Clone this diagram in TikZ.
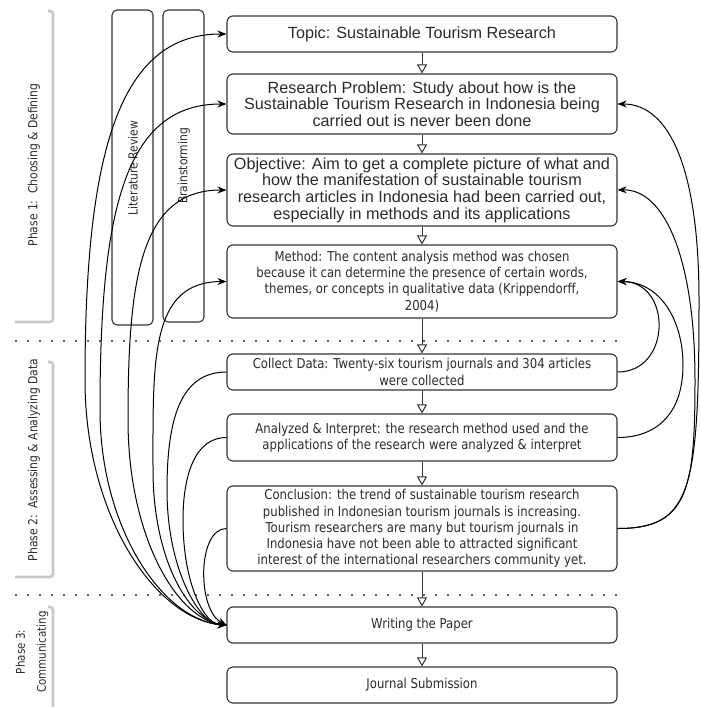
\documentclass[tikz,border=0pt]{standalone}
\usepackage{fontspec}
\setmainfont{Liberation Sans}
\newfontfamily\arialf{Liberation Sans}
\newfontfamily\tahf[FakeStretch=0.86]{DejaVu Sans}
\usetikzlibrary{arrows.meta}
\definecolor{txt}{HTML}{2B2B2B}
\definecolor{frame}{HTML}{333333}
\definecolor{shade}{HTML}{C8C8C8}
\tikzset{
  box/.style={draw=frame, line width=1.1pt, rounded corners=6pt, minimum width=390pt, inner sep=0pt, align=center, text=txt},
  abox/.style={box, font=\arialf\fontsize{16.2}{16.7}\selectfont},
  tbox/.style={box, font=\tahf\fontsize{13.6}{16.2}\selectfont},
  flow/.style={draw=frame, line width=1pt, -{Triangle[open, fill=white, length=9pt, width=10pt, line width=1pt]}},
  cur/.style={draw=black, line width=1pt, -{Stealth[length=9pt, width=7pt]}},
  plain/.style={draw=black, line width=1pt},
  vbox/.style={draw=frame, line width=1.1pt, rounded corners=5pt},
  vtext/.style={rotate=90, text=txt, font=\tahf\fontsize{12.5}{15}\selectfont, align=center},
  dotline/.style={draw=txt, line width=2.2pt, line cap=round, dash pattern=on 0pt off 12pt},
  shadeline/.style={draw=shade, line width=2.6pt, rounded corners=3pt}
}
\begin{document}
\begin{tikzpicture}[x=1pt, y=-1pt]
\useasboundingbox (0,0) rectangle (701,707);
% phase frames
\draw[shadeline] (48,11) -- (53,11) -- (53,322) -- (15,322);
\draw[shadeline] (48,362) -- (53,362) -- (53,577) -- (15,577);
\draw[shadeline] (48,607) -- (53,607) -- (53,707);
\node[vtext] (p1) at (34,165) {Phase 1:\ \ Choosing \& Defining};
\node[vtext] (p2) at (34,460) {Phase 2:\ \ Assessing \& Analyzing Data};
\node[vtext, font=\tahf\fontsize{12}{21}\selectfont] (p3) at (32,652) {Phase 3:\\Communicating};
% dotted separators
\coordinate (d1a) at (16,341); \coordinate (d1b) at (617,341);
\coordinate (d2a) at (16,595); \coordinate (d2b) at (617,595);
\draw[dotline] (d1a) -- (d1b);
\draw[dotline] (d2a) -- (d2b);
% vertical boxes
\draw[vbox] (112,10) rectangle (153,325);
\draw[vbox] (163,10) rectangle (204,322);
\node[vtext] (lit) at (133,168) {Literature Review};
\node[vtext] (brain) at (184,166) {Brainstorming};
% main boxes
\node[abox, minimum height=36pt] (topic) at (422,34) {Topic: Sustainable Tourism Research};
\node[abox, minimum height=60pt] (prob) at (422,104) {Research Problem: Study about how is the\\Sustainable Tourism Research in Indonesia being\\carried out is never been done};
\node[abox, minimum height=72pt] (obj) at (422,190) {Objective: Aim to get a complete picture of what and\\how the manifestation of sustainable tourism\\research articles in Indonesia had been carried out,\\especially in methods and its applications};
\node[tbox, minimum height=73pt] (meth) at (422,281.5) {Method: The content analysis method was chosen\\because it can determine the presence of certain words,\\themes, or concepts in qualitative data (Krippendorff,\\2004)};
\node[tbox, minimum height=36pt] (coll) at (422,372) {Collect Data: Twenty-six tourism journals and 304 articles\\were collected};
\node[tbox, minimum height=47pt] (anal) at (422,437.5) {Analyzed \& Interpret: the research method used and the\\applications of the research were analyzed \& interpret};
\node[tbox, minimum height=85pt] (conc) at (422,528.5) {Conclusion: the trend of sustainable tourism research\\published in Indonesian tourism journals is increasing.\\Tourism researchers are many but tourism journals in\\Indonesia have not been able to attracted significant\\interest of the international researchers community yet.};
\node[tbox, minimum height=36pt] (writ) at (422,625) {Writing the Paper};
\node[tbox, minimum height=36pt] (jour) at (422,685) {Journal Submission};
% flow arrows
\draw[flow] (topic) -- (prob);
\draw[flow] (prob) -- (obj);
\draw[flow] (obj) -- (meth);
\draw[flow] (meth) -- (coll);
\draw[flow] (coll) -- (anal);
\draw[flow] (anal) -- (conc);
\draw[flow] (conc) -- (writ);
\draw[flow] (writ) -- (jour);
% left feedback curves (Writing the Paper -> phase 1 boxes)
\draw[cur] (writ.west) .. controls (160,625) and (85,520) .. (85,380)
  .. controls (85,150) and (120,34) .. (topic.west);
\draw[cur] (writ.west) .. controls (165,625) and (100,530) .. (100,410)
  .. controls (100,210) and (125,104) .. (prob.west);
\draw[cur] (writ.west) .. controls (180,625) and (128,540) .. (128,420)
  .. controls (128,280) and (140,190) .. (obj.west);
\draw[cur] (writ.west) .. controls (190,625) and (153,560) .. (153,470)
  .. controls (153,360) and (150,282) .. (meth.west);
% phase 2 boxes -> Writing the Paper
\draw[cur] (coll.west) .. controls (180,372) and (167,420) .. (167,490)
  .. controls (167,570) and (200,625) .. (writ.west);
\draw[cur] (anal.west) .. controls (195,437.5) and (183,475) .. (183,520)
  .. controls (183,585) and (205,625) .. (writ.west);
\draw[cur] (conc.west) .. controls (197,528.5) and (197,610) .. (writ.west);
% right feedback curves
\draw[cur] (coll.east) .. controls (672,372) and (672,282) .. (meth.east);
\draw[cur] (anal.east) .. controls (660,437.5) and (683,410) .. (683,365)
  .. controls (683,320) and (660,282) .. (meth.east);
\draw[cur] (conc.east) .. controls (688,528.5) and (695,490) .. (695,380)
  .. controls (695,260) and (665,189) .. (obj.east);
\draw[cur] (conc.east) .. controls (692,528.5) and (699,490) .. (699,300)
  .. controls (699,170) and (670,104) .. (prob.east);
\end{tikzpicture}
\end{document}
